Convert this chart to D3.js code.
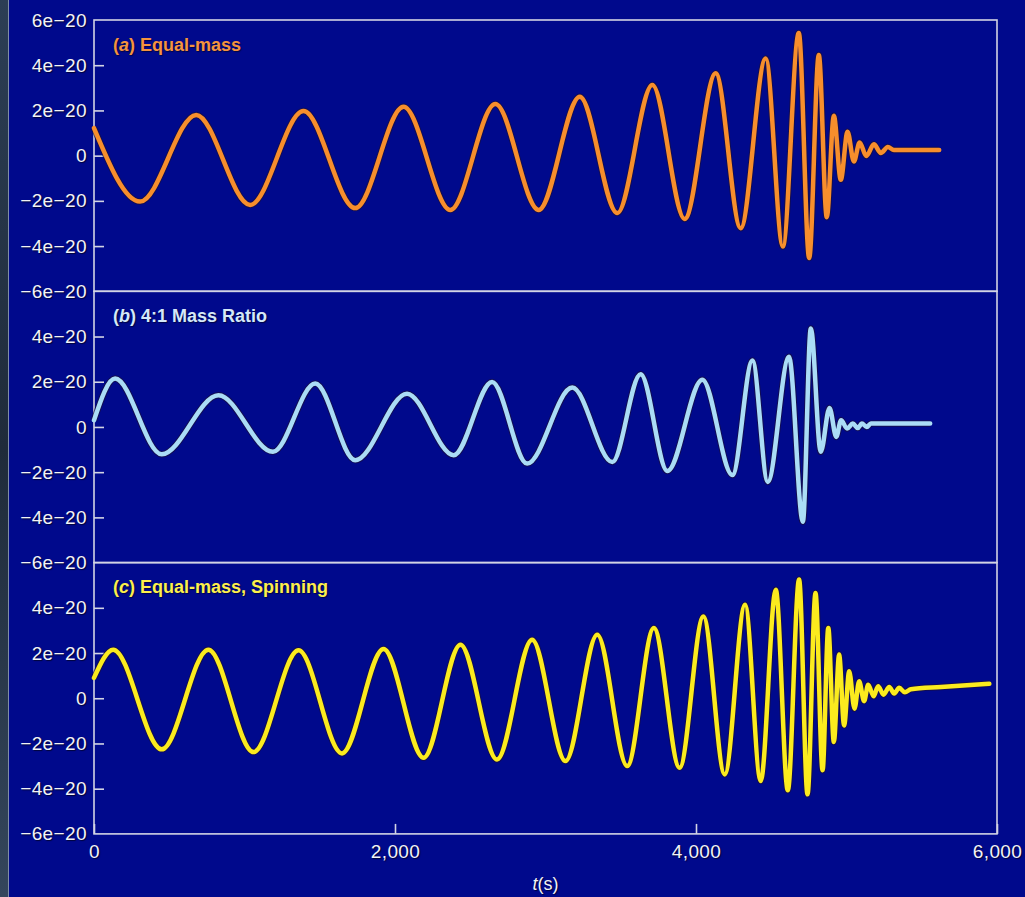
<!DOCTYPE html>
<html>
<head>
<meta charset="utf-8">
<script src="https://cdn.jsdelivr.net/npm/d3@7"></script>
<style>
  body { margin: 0; background: #00098c; }
  svg { display: block; }
  .tick text { text-shadow: 1px 1px 1px rgba(0,0,0,0.6); }
</style>
</head>
<body>
<div id="chart"></div>
<script>
// Waveform extrema (t in seconds, h in units of 1e-20)
const timeA = [0, 306, 679, 1038, 1392, 1736, 2057, 2368, 2667, 2955, 3228, 3477, 3710, 3925, 4131, 4297, 4463, 4577, 4683, 4752, 4816, 4869, 4916, 4962, 5007, 5049, 5087, 5132, 5182, 5228, 5275, 5315, 5616];
const strainA = [1.22, -2.03, 1.80, -2.18, 1.97, -2.32, 2.16, -2.40, 2.28, -2.40, 2.60, -2.54, 3.12, -2.80, 3.64, -3.21, 4.30, -4.02, 5.42, -4.53, 4.45, -2.72, 1.76, -1.07, 1.06, -0.26, 0.58, -0.02, 0.50, 0.12, 0.38, 0.25, 0.25];

const timeB = [0, 140, 450, 827, 1189, 1470, 1736, 2080, 2390, 2645, 2878, 3178, 3444, 3632, 3810, 4042, 4242, 4375, 4477, 4618, 4710, 4763, 4829, 4887, 4932, 4964, 5004, 5042, 5075, 5102, 5135, 5162, 5556];
const strainB = [0.30, 2.14, -1.21, 1.40, -1.10, 1.92, -1.47, 1.47, -1.25, 1.99, -1.62, 1.74, -1.55, 2.33, -1.95, 2.09, -2.13, 2.94, -2.43, 3.10, -4.19, 4.36, -1.10, 0.84, -0.44, 0.30, -0.07, 0.15, -0.05, 0.15, 0.00, 0.15, 0.15];

const timeC = [0, 128, 450, 760, 1060, 1359, 1648, 1924, 2190, 2435, 2678, 2911, 3133, 3344, 3543, 3720, 3891, 4049, 4191, 4326, 4430, 4530, 4610, 4685, 4741, 4794, 4841, 4879, 4916, 4951, 4984, 5018, 5053, 5084, 5117, 5144, 5180, 5210, 5246, 5284, 5317, 5350, 5388, 5428, 5628, 5949];
const strainC = [0.90, 2.15, -2.26, 2.15, -2.38, 2.12, -2.44, 2.18, -2.63, 2.37, -2.71, 2.59, -2.78, 2.81, -3.00, 3.11, -3.07, 3.62, -3.37, 4.14, -3.66, 4.80, -4.07, 5.25, -4.25, 4.65, -3.18, 3.11, -1.93, 1.93, -1.20, 1.19, -0.46, 0.75, -0.13, 0.60, 0.09, 0.53, 0.16, 0.50, 0.21, 0.46, 0.26, 0.40, 0.50, 0.64];

const panelLetters = ["a", "b", "c"];
const panelNames = [") Equal-mass", ") 4:1 Mass Ratio", ") Equal-mass, Spinning"];
const yTicksTop = [6, 4, 2, 0, -2, -4, -6];
const yTicksRest = [4, 2, 0, -2, -4, -6];
const xTicks = [0, 2000, 4000, 6000];

const series = [
    {t: timeA, h: strainA, color: "#f78e2c", label: "#f4933f", ticks: yTicksTop},
    {t: timeB, h: strainB, color: "#aadcf6", label: "#d4e8f8", ticks: yTicksRest},
    {t: timeC, h: strainC, color: "#fbeb1e", label: "#fcef4c", ticks: yTicksRest}
];

const width = 1025, height = 897;
const panelTop = 20, panelHeight = 271.3;
const left = 94, right = 997;

const svg = d3.select("#chart")
    .append("svg")
    .attr("width", width)
    .attr("height", height)
    .style("font-family", "'Liberation Sans', Arial, sans-serif");

svg.append("rect")
    .attr("width", width)
    .attr("height", height)
    .attr("fill", "#00098c");

// dark strip on the far left edge
const edge = svg.append("defs")
    .append("linearGradient")
    .attr("id", "edgeGradient")
    .attr("x1", "0%").attr("y1", "0%")
    .attr("x2", "0%").attr("y2", "100%");
edge.append("stop").attr("offset", "0%").attr("stop-color", "#2c3e55");
edge.append("stop").attr("offset", "50%").attr("stop-color", "#1f2b3a");
edge.append("stop").attr("offset", "100%").attr("stop-color", "#34465c");

svg.append("rect")
    .attr("width", 8)
    .attr("height", height)
    .attr("fill", "url(#edgeGradient)");
svg.append("line")
    .attr("x1", 8.5).attr("x2", 8.5)
    .attr("y1", 0).attr("y2", height)
    .attr("stroke", "#7f8ea8")
    .attr("stroke-width", 1);

const x = d3.scaleLinear()
    .domain([0, 6000])
    .range([left, right]);

series.forEach((s, i) => {
    const top = panelTop + i * panelHeight;
    const y = d3.scaleLinear()
        .domain([-6, 6])
        .range([top + panelHeight, top]);

    // frame
    svg.append("rect")
        .attr("x", left)
        .attr("y", top)
        .attr("width", right - left)
        .attr("height", panelHeight)
        .attr("fill", "none")
        .attr("stroke", "#d2d4e4")
        .attr("stroke-width", 1.6);

    // Y axis
    svg.append("g")
        .attr("transform", `translate(${left},0)`)
        .call(d3.axisLeft(y)
            .tickValues(s.ticks)
            .tickSizeInner(-10)
            .tickSizeOuter(0)
            .tickPadding(7)
            .tickFormat(v => v === 0 ? "0" : `${v < 0 ? "\u2212" : ""}${Math.abs(v)}e\u221220`))
        .call(g => g.select(".domain").remove())
        .call(g => g.selectAll(".tick line")
            .attr("stroke", "#d2d4e4")
            .attr("stroke-width", 1.6)
            .attr("display", v => Math.abs(v) === 6 ? "none" : null))
        .call(g => g.selectAll(".tick text")
            .attr("fill", "#f2f2f6")
            .style("font-size", "19px")
            .style("letter-spacing", "0.4px"));

    // panel title
    const title = svg.append("text")
        .attr("x", 113)
        .attr("y", top + 30.5)
        .attr("fill", s.label)
        .style("font-size", "18px")
        .style("font-weight", "bold")
        .style("text-shadow", "1px 1px 1px rgba(0,0,0,0.5)");
    title.append("tspan").text("(");
    title.append("tspan").style("font-style", "italic").text(panelLetters[i]);
    title.append("tspan").text(panelNames[i]);

    const pts = s.t.map((t, k) => [t, s.h[k]]);
    const line = d3.line()
        .x(d => x(d[0]))
        .y(d => y(d[1]))
        .curve(d3.curveMonotoneX);

    // dark edge under the waveform
    svg.append("path")
        .datum(pts)
        .attr("d", line)
        .attr("fill", "none")
        .attr("stroke", "#1a0f3c")
        .attr("stroke-opacity", 0.7)
        .attr("stroke-width", 6.5)
        .attr("stroke-linejoin", "round");

    svg.append("path")
        .datum(pts)
        .attr("d", line)
        .attr("fill", "none")
        .attr("stroke", s.color)
        .attr("stroke-width", 4.5)
        .attr("stroke-linejoin", "round")
        .attr("stroke-linecap", "round");
});

// X axis on the bottom panel
const bottom = panelTop + 3 * panelHeight;
svg.append("g")
    .attr("transform", `translate(0,${bottom})`)
    .call(d3.axisBottom(x)
        .tickValues(xTicks)
        .tickSizeInner(-10)
        .tickSizeOuter(0)
        .tickPadding(11)
        .tickFormat(d3.format(",")))
    .call(g => g.select(".domain").remove())
    .call(g => g.selectAll(".tick line")
        .attr("stroke", "#d2d4e4")
        .attr("stroke-width", 1.6))
    .call(g => g.selectAll(".tick text")
        .attr("fill", "#f2f2f6")
        .style("font-size", "19px")
        .style("letter-spacing", "0.4px"));

const xTitle = svg.append("text")
    .attr("x", (left + right) / 2)
    .attr("y", 890)
    .attr("text-anchor", "middle")
    .attr("fill", "#f2f2f6")
    .style("font-size", "18px")
    .style("text-shadow", "1px 1px 1px rgba(0,0,0,0.6)");
xTitle.append("tspan").style("font-style", "italic").text("t");
xTitle.append("tspan").text("(s)");
</script>
</body>
</html>
